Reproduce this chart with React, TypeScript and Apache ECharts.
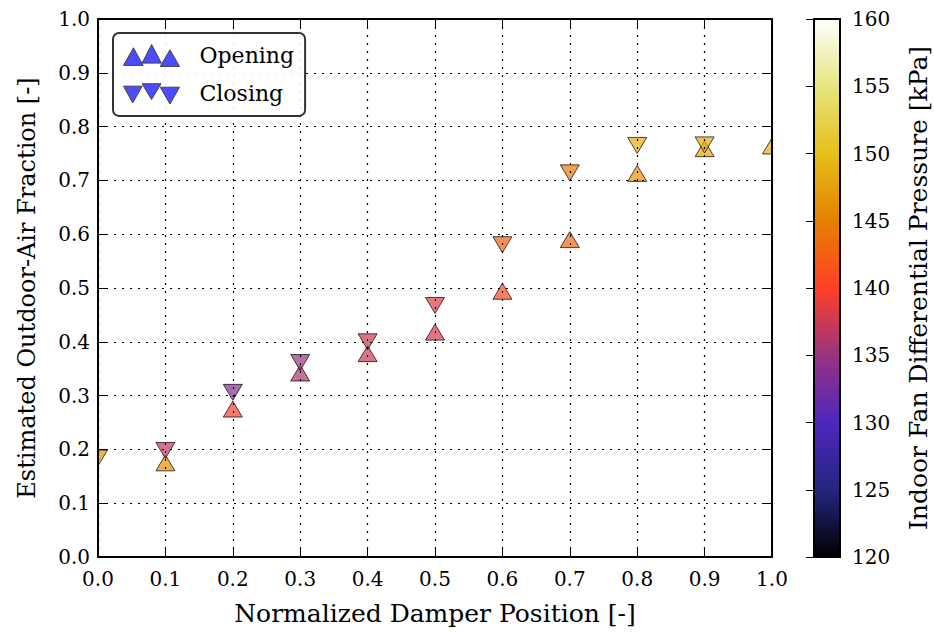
import React, { useEffect, useRef } from "react";
import * as echarts from "echarts";

// ---- data ----
const xTicks = [0, 0.1, 0.2, 0.3, 0.4, 0.5, 0.6, 0.7, 0.8, 0.9, 1.0];

const closingX = [0.0, 0.1, 0.2, 0.3, 0.4, 0.5, 0.6, 0.7, 0.8, 0.9];
const closingY = [0.184, 0.198, 0.306, 0.3615, 0.4, 0.4675, 0.5805, 0.714, 0.765, 0.766];
const closingP = [146.5, 137, 133.5, 135, 137.5, 138.5, 142.5, 144.5, 148.5, 148.5];

const openingX = [0.1, 0.2, 0.3, 0.4, 0.5, 0.6, 0.7, 0.8, 0.9, 1.0];
const openingY = [0.175, 0.275, 0.342, 0.378, 0.418, 0.494, 0.59, 0.713, 0.759, 0.764];
const openingP = [146, 139.5, 136, 137.5, 138, 141, 143, 146.5, 148, 149];

const pressureMin = 120;
const pressureMax = 160;

// CMRmap colormap stops
const cmrMap = [
  "#000000",
  "#262680",
  "#4d26bf",
  "#993380",
  "#ff4026",
  "#e68000",
  "#e6bf1a",
  "#e6e680",
  "#ffffff",
];

const FONT = "DejaVu Serif";

const upIcon =
  "path://M0,21L10,3.3L19.7,21Z M18.7,18.7L28.3,0L38,18.7Z M37,22L46.7,5.3L56.3,22Z";
const downIcon =
  "path://M0,2.3L17.7,2.3L8.8,18.3Z M17.7,0L35.7,0L26.7,15Z M35,3.3L53.3,3.3L44.2,19.3Z";

const MARK_W = 19;
const MARK_H = 16;

function triangleRenderer(pointUp: boolean) {
  return (params: any, api: any) => {
    const p = api.coord([api.value(0), api.value(1)]);
    const w = MARK_W / 2;
    const h = MARK_H / 2;
    const points = pointUp
      ? [
          [p[0], p[1] - h],
          [p[0] + w, p[1] + h],
          [p[0] - w, p[1] + h],
        ]
      : [
          [p[0] - w, p[1] - h],
          [p[0] + w, p[1] - h],
          [p[0], p[1] + h],
        ];
    return {
      type: "polygon",
      shape: { points },
      style: {
        fill: api.visual("color"),
        stroke: "#000",
        lineWidth: 1,
        opacity: 0.7,
      },
    };
  };
}

export default function App() {
  const ref = useRef<HTMLDivElement>(null);

  useEffect(() => {
    if (!ref.current) return;
    const chart = echarts.init(ref.current, undefined, { renderer: "svg" });

    const closingData = closingX.map((x, i) => [x, closingY[i], closingP[i]]);
    const openingData = openingX.map((x, i) => [x, openingY[i], openingP[i]]);

    const tickLabel = { fontFamily: FONT, fontSize: 20, color: "#000" };
    const dotted = { show: true, lineStyle: { color: "#000", width: 1.2, type: [2, 6] as any } };

    const option: any = {
      animation: false,
      backgroundColor: "#fff",
      grid: [
        { left: 98, top: 19, width: 674, height: 538, containLabel: false },
        {
          left: 814,
          top: 19,
          width: 26,
          height: 538,
          show: true,
          borderColor: "#000",
          borderWidth: 2,
          backgroundColor: "transparent",
          z: 10,
        },
      ],
      xAxis: [
        {
          type: "value",
          gridIndex: 0,
          min: 0,
          max: 1,
          interval: 0.1,
          z: 3,
          name: "Normalized Damper Position [-]",
          nameLocation: "middle",
          nameGap: 44,
          nameTextStyle: { fontFamily: FONT, fontSize: 25, color: "#000" },
          axisLine: { show: true, onZero: false, lineStyle: { color: "#000", width: 2 } },
          axisTick: { show: true, inside: true, length: 10, lineStyle: { color: "#000", width: 1 } },
          axisLabel: { ...tickLabel, margin: 12, formatter: (v: number) => v.toFixed(1) },
          splitLine: dotted,
        },
        {
          type: "value",
          gridIndex: 0,
          position: "top",
          min: 0,
          max: 1,
          interval: 0.1,
          z: 3,
          axisLine: { show: true, onZero: false, lineStyle: { color: "#000", width: 2 } },
          axisTick: { show: true, inside: true, length: 10, lineStyle: { color: "#000", width: 1 } },
          axisLabel: { show: false },
          splitLine: { show: false },
        },
        { type: "value", gridIndex: 1, min: 0, max: 1, show: false },
      ],
      yAxis: [
        {
          type: "value",
          gridIndex: 0,
          min: 0,
          max: 1,
          interval: 0.1,
          z: 3,
          name: "Estimated Outdoor-Air Fraction [-]",
          nameLocation: "middle",
          nameGap: 59,
          nameTextStyle: { fontFamily: FONT, fontSize: 24, color: "#000" },
          axisLine: { show: true, onZero: false, lineStyle: { color: "#000", width: 2 } },
          axisTick: { show: true, inside: true, length: 10, lineStyle: { color: "#000", width: 1 } },
          axisLabel: { ...tickLabel, margin: 8, formatter: (v: number) => v.toFixed(1) },
          splitLine: dotted,
        },
        {
          type: "value",
          gridIndex: 0,
          position: "right",
          min: 0,
          max: 1,
          interval: 0.1,
          z: 3,
          axisLine: { show: true, onZero: false, lineStyle: { color: "#000", width: 2 } },
          axisTick: { show: true, inside: true, length: 10, lineStyle: { color: "#000", width: 1 } },
          axisLabel: { show: false },
          splitLine: { show: false },
        },
        {
          type: "value",
          gridIndex: 1,
          position: "right",
          min: pressureMin,
          max: pressureMax,
          interval: 5,
          z: 11,
          name: "Indoor Fan Differential Pressure [kPa]",
          nameLocation: "middle",
          nameRotate: 90,
          nameGap: 66,
          nameTextStyle: { fontFamily: FONT, fontSize: 25, color: "#000" },
          axisLine: { show: false },
          axisTick: { show: true, inside: true, length: 8, lineStyle: { color: "#000", width: 1 } },
          axisLabel: { ...tickLabel, margin: 12 },
          splitLine: { show: false },
        },
      ],
      visualMap: {
        type: "continuous",
        seriesIndex: [0, 1],
        dimension: 2,
        min: pressureMin,
        max: pressureMax,
        inRange: { color: cmrMap },
        calculable: false,
        hoverLink: false,
        show: true,
        align: "left",
        left: 814,
        top: 19,
        itemWidth: 26,
        itemHeight: 538,
        padding: 0,
        text: null,
      },
      legend: {
        orient: "vertical",
        left: 113,
        top: 33,
        padding: [11, 11, 11, 10],
        itemGap: 16,
        itemWidth: 56,
        itemHeight: 22,
        backgroundColor: "rgba(255,255,255,0.9)",
        borderColor: "#333",
        borderWidth: 2,
        borderRadius: 6,
        z: 20,
        textStyle: { fontFamily: FONT, fontSize: 22, color: "#000", padding: [0, 0, 0, 15] },
        data: [
          {
            name: "Opening",
            icon: upIcon,
            itemStyle: { color: "rgb(76,76,255)", borderColor: "#444", borderWidth: 1, opacity: 1 },
          },
          {
            name: "Closing",
            icon: downIcon,
            itemStyle: { color: "rgb(76,76,255)", borderColor: "#444", borderWidth: 1, opacity: 1 },
          },
        ],
      },
      series: [
        {
          name: "Opening",
          type: "custom",
          xAxisIndex: 0,
          yAxisIndex: 0,
          clip: true,
          renderItem: triangleRenderer(true),
          encode: { x: 0, y: 1 },
          data: openingData,
          z: 2,
        },
        {
          name: "Closing",
          type: "custom",
          xAxisIndex: 0,
          yAxisIndex: 0,
          clip: true,
          renderItem: triangleRenderer(false),
          encode: { x: 0, y: 1 },
          data: closingData,
          z: 2,
        },
      ],
    };

    chart.setOption(option);
    return () => chart.dispose();
  }, []);

  return (
    <div
      ref={ref}
      style={{ position: "absolute", left: 0, top: 0, width: 934, height: 636 }}
    />
  );
}
